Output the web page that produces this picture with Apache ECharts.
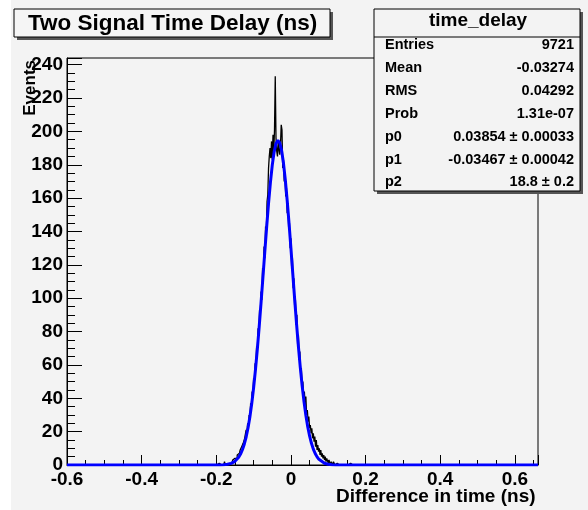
<!DOCTYPE html>
<html>
<head>
<meta charset="utf-8">
<script src="https://cdn.jsdelivr.net/npm/echarts@6/dist/echarts.min.js"></script>
<style>
html,body{margin:0;padding:0;background:#f3f3f3;}
#chart{width:588px;height:510px;}
</style>
</head>
<body>
<div id="chart"></div>
<script>
// Histogram: bins of width 0.002 ns starting at -0.2 ns (all other bins are empty)
const histLow = -0.2;
const binWidth = 0.002;
const xRange = [-0.6, 0.662];
const counts = [
  0,0,0,1,0,0,0,
  0,1,0,0,2,0,1,0,1,1,
  1,1,2,1,2,3,2,4,3,5,
  4,6,5,7,6,9,8,11,10,13,
  14,16,15,21,19,25,23,30,28,37,
  35,44,42,52,50,61,58,71,69,82,
  79,93,91,104,99,118,112,131,124,143,
  138,158,162,178,185,190,184,194,183,198,
  187,201,233,196,188,185,194,189,186,192,
  204,201,178,183,170,174,161,166,151,157,
  141,145,130,136,118,124,106,112,95,99,
  84,90,72,78,63,68,55,58,47,50,
  41,44,36,41,30,33,26,29,22,24,
  19,22,16,19,14,17,11,15,9,12,
  8,10,6,9,5,7,4,6,3,5,
  2,4,3,1,3,2,0,2,1,0,
  2,1,0,1,1,0,1,0,0,1,
  0,1,0,0,0,1,0,0,0,0,
  0,0,1,0,0,0,0,0,0,0,
  0,0,0,0,0,0,0,0,0,0,0,0,0
];
// Fitted curve
const fitX = [-0.6,-0.2,-0.19,-0.18,-0.17,
  -0.165,-0.16,-0.155,-0.15,-0.145,-0.14,-0.135,-0.13,-0.125,-0.12,-0.115,-0.11,-0.105,-0.1,-0.095,-0.09,-0.085,-0.08,
  -0.075,-0.07,-0.065,-0.06,-0.055,-0.05,-0.045,-0.04,-0.035,-0.03,-0.025,-0.02,-0.015,-0.01,-0.005,0,
  0.005,0.01,0.015,0.02,0.025,0.03,0.035,0.04,0.045,0.05,0.055,0.06,0.065,0.07,0.075,0.08,
  0.09,0.1,0.11,0.12,0.662];
const fitY = [0,0.02,0.06,0.16,0.41,
  0.64,0.98,1.49,2.21,3.23,4.65,6.57,9.13,12.48,16.78,22.17,28.81,36.81,46.25,57.15,69.43,82.94,97.44,
  112.55,127.84,142.77,156.80,169.32,179.80,187.73,192.75,194.6,193.18,188.57,181.0,170.83,158.55,144.69,129.84,
  114.57,99.41,84.81,71.15,58.70,47.61,37.98,29.78,22.98,17.43,12.99,9.52,6.87,4.87,3.40,2.33,
  1.04,0.43,0.16,0.05,0];
const statLabels = ['Entries','Mean','RMS','Prob','p0','p1','p2'];
const statValues = ['9721','-0.03274','0.04292','1.31e-07','0.03854 \u00b1 0.00033','-0.03467 \u00b1 0.00042','18.8 \u00b1 0.2'];
const titleText = 'Two Signal Time Delay (ns)';
const statTitle = 'time_delay';
const xTitle = 'Difference in time (ns)';
const yTitle = 'Events';

const FF = '"Liberation Sans", Arial, Helvetica, sans-serif';

const histData = [[xRange[0], 0]];
counts.forEach((c, i) => histData.push([histLow + binWidth * (i + 0.5), c]));
histData.push([xRange[1], 0]);
const fitData = fitX.map((x, i) => [x, fitY[i]]);

function txt(text, x, y, size, align, valign) {
  return {
    type: 'text', z: 100,
    style: { text: text, x: x, y: y, font: 'bold ' + size + 'px ' + FF, fill: '#000',
      align: align, verticalAlign: valign, textAlign: align, textVerticalAlign: valign }
  };
}

const graphics = [
  { type: 'rect', z: 90, shape: { x: 0, y: 0, width: 11, height: 510 }, style: { fill: '#ffffff' } },
  // title box
  { type: 'rect', z: 98, shape: { x: 17, y: 12, width: 316, height: 28 }, style: { fill: '#555555' } },
  { type: 'rect', z: 99, shape: { x: 14, y: 9, width: 316, height: 28 }, style: { fill: '#f5f5f5', stroke: '#000', lineWidth: 1 } },
  txt(titleText, 28, 24, 22.5, 'left', 'middle'),
  // stats box
  { type: 'rect', z: 98, shape: { x: 377, y: 12, width: 206, height: 182 }, style: { fill: '#555555' } },
  { type: 'rect', z: 99, shape: { x: 374, y: 9, width: 206, height: 182 }, style: { fill: '#f3f3f3', stroke: '#000', lineWidth: 1 } },
  { type: 'line', z: 100, shape: { x1: 374, y1: 37, x2: 580, y2: 37 }, style: { stroke: '#000', lineWidth: 1 } },
  txt(statTitle, 478, 21, 19, 'center', 'middle'),
  // axis titles
  txt(xTitle, 336, 497, 19, 'left', 'middle'),
  {
    type: 'text', z: 100, x: 30, y: 60, rotation: Math.PI / 2,
    style: { text: yTitle, x: 0, y: 0, font: 'bold 17px ' + FF, fill: '#000',
      align: 'right', verticalAlign: 'middle', textAlign: 'right', textVerticalAlign: 'middle' }
  }
];
const rowY = [45, 68, 91, 113.5, 136.5, 159.5, 181.5];
statLabels.forEach((l, i) => {
  graphics.push(txt(l, 385, rowY[i], 14.5, 'left', 'middle'));
  graphics.push(txt(statValues[i], 574, rowY[i], 14.5, 'right', 'middle'));
});

function fmtX(v) {
  const k = Math.round(v / 0.2);
  if (Math.abs(v - k * 0.2) > 1e-6) return '';
  if (k === 0) return '0';
  return (k * 0.2).toFixed(1);
}
function fmtY(v) {
  if (Math.abs(v % 20) > 1e-6) return '';
  return String(Math.round(v));
}

const chart = echarts.init(document.getElementById('chart'), null, { renderer: 'canvas' });
chart.setOption({
  animation: false,
  backgroundColor: '#f3f3f3',
  grid: { left: 67, right: 50, top: 58, bottom: 45, show: true, borderColor: '#000', borderWidth: 1, backgroundColor: 'transparent' },
  xAxis: {
    type: 'value', min: xRange[0], max: xRange[1], interval: 0.2,
    axisLine: { show: true, onZero: false, lineStyle: { color: '#000', width: 1 } },
    axisTick: { show: true, inside: true, length: 10, lineStyle: { color: '#000', width: 1 } },
    minorTick: { show: true, splitNumber: 4, length: 5, lineStyle: { color: '#000', width: 1 } },
    splitLine: { show: false },
    axisLabel: { margin: 5, color: '#000', fontSize: 19, fontWeight: 'bold', fontFamily: FF, showMaxLabel: false, formatter: fmtX }
  },
  yAxis: {
    type: 'value', min: 0, max: 244, interval: 20,
    axisLine: { show: true, onZero: false, lineStyle: { color: '#000', width: 1 } },
    axisTick: { show: true, inside: true, length: 15, lineStyle: { color: '#000', width: 1 } },
    minorTick: { show: true, splitNumber: 4, length: 8, lineStyle: { color: '#000', width: 1 } },
    splitLine: { show: false },
    axisLabel: { margin: 4, color: '#000', fontSize: 19, fontWeight: 'bold', fontFamily: FF, showMaxLabel: false, formatter: fmtY }
  },
  series: [
    { type: 'line', data: histData, step: 'middle', symbol: 'none', lineStyle: { color: '#000', width: 1.3 }, z: 2 },
    { type: 'line', data: fitData, symbol: 'none', smooth: false, lineStyle: { color: '#0000ff', width: 3 }, z: 3 }
  ],
  graphic: { elements: graphics }
});
</script>
</body>
</html>
